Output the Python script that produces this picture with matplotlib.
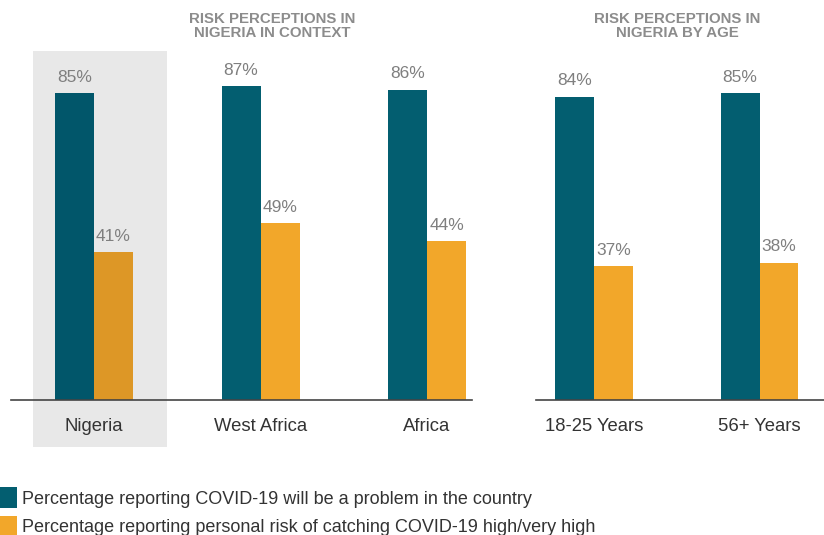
import numpy as np
import matplotlib.pyplot as plt
from matplotlib.patches import Rectangle

plt.rcParams['font.family'] = ['Liberation Sans', 'DejaVu Sans']

# Dados
regioes = ['Nigeria', 'West Africa', 'Africa']
problema_regiao = [85, 87, 86]
risco_regiao = [41, 49, 44]

idades = ['18-25 Years', '56+ Years']
problema_idade = [84, 85]
risco_idade = [37, 38]

legenda = ['Percentage reporting COVID-19 will be a problem in the country',
           'Percentage reporting personal risk of catching COVID-19 high/very high']

azul = '#035e70'
laranja = '#f2a72a'
azul_escuro = '#01566a'
laranja_escuro = '#dd9726'
cinza_texto = '#7f7f7f'

W, H = 824, 535
fig = plt.figure(figsize=(W/100, H/100), dpi=100)

def fx(x):
    return x/W

def fy(y):
    return 1 - y/H

base = 400
escala = 3.61   # pixels por ponto percentual
topo = 100
larg_bar = 39/166.5

def painel(x0, x1, centro0, passo, cats, v1, v2, destaque=None):
    ax = fig.add_axes([fx(x0), fy(base), fx(x1-x0), topo*escala/H])
    x = np.arange(len(cats))
    ax.set_xlim(-(centro0-x0)/passo, (x1-centro0)/passo)
    ax.set_ylim(0, topo)
    c1 = [azul]*len(cats)
    c2 = [laranja]*len(cats)
    if destaque is not None:
        c1[destaque] = azul_escuro
        c2[destaque] = laranja_escuro
        ax.add_patch(Rectangle((destaque-61/passo, -47/escala), 134/passo, (base-51+47)/escala,
                               facecolor='#e8e8e8', edgecolor='none', clip_on=False, zorder=0))
    b1 = ax.bar(x - larg_bar/2, v1, larg_bar, color=c1, zorder=2)
    b2 = ax.bar(x + larg_bar/2, v2, larg_bar, color=c2, zorder=2)
    for barras in (b1, b2):
        for b in barras:
            ax.annotate(f'{b.get_height():.0f}%', (b.get_x()+b.get_width()/2, b.get_height()),
                        xytext=(0, 6), textcoords='offset points', ha='center', va='bottom',
                        fontsize=12.5, color=cinza_texto)
    ax.set_xticks(x)
    ax.set_xticklabels(cats, fontsize=13.3, color='#333333')
    ax.tick_params(axis='x', length=0, pad=13)
    ax.set_yticks([])
    for s in ['top', 'right', 'left']:
        ax.spines[s].set_visible(False)
    ax.spines['bottom'].set_color('#444444')
    ax.spines['bottom'].set_linewidth(1.2)
    ax.patch.set_alpha(0)
    return ax

painel(11, 472, 94, 166.5, regioes, problema_regiao, risco_regiao, destaque=0)
painel(536, 824, 594, 165.5, idades, problema_idade, risco_idade)

fig.text(fx(272), fy(26), 'RISK PERCEPTIONS IN\nNIGERIA IN CONTEXT', ha='center', va='center',
         fontsize=10.8, fontweight='bold', color='#8c8c8c', linespacing=1.05)
fig.text(fx(677), fy(26), 'RISK PERCEPTIONS IN\nNIGERIA BY AGE', ha='center', va='center',
         fontsize=10.8, fontweight='bold', color='#8c8c8c', linespacing=1.05)

# Legenda
for i, (txt, cor) in enumerate(zip(legenda, [azul, laranja])):
    y_top = 487 + i*29
    fig.patches.append(Rectangle((fx(0), fy(y_top+21)), fx(17), 21/H, facecolor=cor,
                                 edgecolor='none', transform=fig.transFigure, figure=fig))
    fig.text(fx(22), fy(y_top+12), txt, ha='left', va='center', fontsize=13, color='#333333')

fig.savefig('out.png', dpi=100)
